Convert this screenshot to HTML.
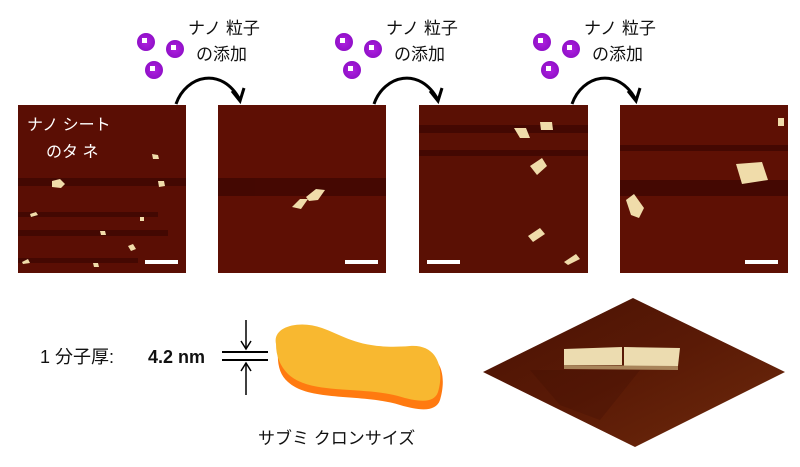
<!DOCTYPE html>
<html><head><meta charset="utf-8"><style>
body{margin:0;width:800px;height:467px;background:#fff;overflow:hidden;font-family:"Liberation Sans","Noto Sans CJK JP",sans-serif}
</style></head><body>
<svg width="800" height="467" xmlns="http://www.w3.org/2000/svg" style="position:absolute;left:0;top:0">
<defs>
<radialGradient id="p" cx="0.5" cy="0.5" r="0.5"><stop offset="0" stop-color="#b020e0"/><stop offset="1" stop-color="#9010c8"/></radialGradient>
<linearGradient id="d" x1="0" y1="0" x2="1" y2="1"><stop offset="0" stop-color="#4a1204"/><stop offset="0.5" stop-color="#5a1a06"/><stop offset="1" stop-color="#6e2a0c"/></linearGradient>
</defs>
<g font-size="17" fill="#111">
<g id="grp">
<circle cx="146" cy="42" r="9" fill="url(#p)"/><rect x="142" y="38" width="5" height="5" fill="#fff"/>
<circle cx="175" cy="49" r="9" fill="url(#p)"/><rect x="171" y="45" width="5" height="5" fill="#fff"/>
<circle cx="154" cy="70" r="9" fill="url(#p)"/><rect x="150" y="66" width="5" height="5" fill="#fff"/>
<text x="188" y="34">ナノ 粒子</text><text x="196" y="60">の添加</text>
<path d="M176,104 C186,75 222,66 240,100" fill="none" stroke="#000" stroke-width="3"/>
<path d="M232,91 L240,101 L244,88" fill="none" stroke="#000" stroke-width="3"/>
</g>
<use href="#grp" x="198"/><use href="#grp" x="396"/>
</g>
<g>
<rect x="18" y="105" width="168" height="168" fill="#5a0e04"/>
<rect x="218" y="105" width="168" height="168" fill="#5e0f04"/>
<rect x="419" y="105" width="169" height="168" fill="#5a1004"/>
<rect x="620" y="105" width="168" height="168" fill="#5e1004"/>
<g fill="#3a0602" opacity="0.7">
<rect x="18" y="178" width="168" height="8"/><rect x="18" y="212" width="140" height="5"/><rect x="18" y="230" width="150" height="6"/><rect x="18" y="258" width="120" height="5"/>
<rect x="218" y="178" width="168" height="18"/>
<rect x="419" y="125" width="169" height="8"/><rect x="419" y="150" width="169" height="6"/>
<rect x="620" y="180" width="168" height="16"/><rect x="620" y="145" width="168" height="6"/>
</g>
<g fill="#f0dcaa">
<path d="M52,181 l8,-2 l5,5 l-4,4 l-9,-1z"/><path d="M152,154 l6,1 l1,4 l-6,0z"/><path d="M158,181 l6,0 l1,5 l-6,1z"/>
<path d="M30,214 l6,-2 l2,3 l-7,2z"/><path d="M100,231 l5,0 l1,4 l-5,0z"/><path d="M140,217 l4,0 l0,4 l-4,0z"/>
<path d="M128,246 l5,-2 l3,5 l-5,2z"/><path d="M22,262 l6,-3 l2,4 l-7,1z"/><path d="M93,263 l5,0 l1,4 l-5,0z"/>
<path d="M292,207 l8,-8 l8,0 l-7,10z"/><path d="M306,197 l10,-8 l9,1 l-7,10 l-9,1z"/>
<path d="M514,128 l12,0 l4,10 l-10,0z"/><path d="M540,122 l12,0 l1,8 l-12,0z"/><path d="M530,166 l12,-8 l5,8 l-10,9z"/><path d="M528,236 l12,-8 l5,6 l-12,8z"/><path d="M564,262 l12,-8 l4,5 l-12,6z"/>
<path d="M626,200 l8,-6 l10,14 l-5,10 l-8,-3z"/><path d="M736,164 l26,-2 l6,18 l-26,4z"/><path d="M778,118 l6,0 l0,8 l-6,0z"/>
</g>
<g fill="#fff"><rect x="145" y="260" width="33" height="4"/><rect x="345" y="260" width="33" height="4"/><rect x="427" y="260" width="33" height="4"/><rect x="745" y="260" width="33" height="4"/></g>
<text x="27" y="130" font-size="16" fill="#fff">ナノ シート</text><text x="46" y="157" font-size="16" fill="#fff">のタ ネ</text>
</g>
<text x="40" y="363" font-size="18" fill="#111">1 分子厚:</text><text x="148" y="363" font-size="18" font-weight="bold" fill="#111">4.2 nm</text>
<line x1="222" y1="352" x2="268" y2="352" stroke="#000" stroke-width="2"/><line x1="222" y1="360" x2="268" y2="360" stroke="#000" stroke-width="2"/>
<line x1="246" y1="320" x2="246" y2="348" stroke="#000" stroke-width="1.5"/><path d="M241,341 L246,349 L251,341" fill="none" stroke="#000" stroke-width="1.5"/>
<line x1="246" y1="364" x2="246" y2="395" stroke="#000" stroke-width="1.5"/><path d="M241,371 L246,363 L251,371" fill="none" stroke="#000" stroke-width="1.5"/>
<path d="M278,350 C274,330 300,326 322,334 C345,342 360,356 410,352 C445,350 446,380 440,400 C436,412 420,411 400,405 C360,393 310,402 288,382 C280,375 277,365 278,350z" fill="#ff7a10"/>
<path d="M276,344 C272,326 300,320 322,328 C345,336 360,350 410,346 C440,344 444,372 438,392 C434,404 418,402 398,396 C360,386 310,395 288,374 C280,366 276,356 276,344z" fill="#f8b830"/>
<text x="258" y="444" font-size="17" fill="#111">サブミ クロンサイズ</text>
<path d="M633,298 L785,372 L635,447 L483,372z" fill="url(#d)"/>
<path d="M530,370 L640,370 L600,420 L560,405z" fill="#3a0a02" opacity="0.25"/>
<path d="M564,349 L622,347 L622,365 L564,365z" fill="#ecdcb0"/><path d="M624,347 L680,348 L678,366 L624,367z" fill="#ecdcb0"/>
<path d="M564,365 L678,366 L678,370 L564,369z" fill="#a8845a"/>
</svg>
</body></html>
